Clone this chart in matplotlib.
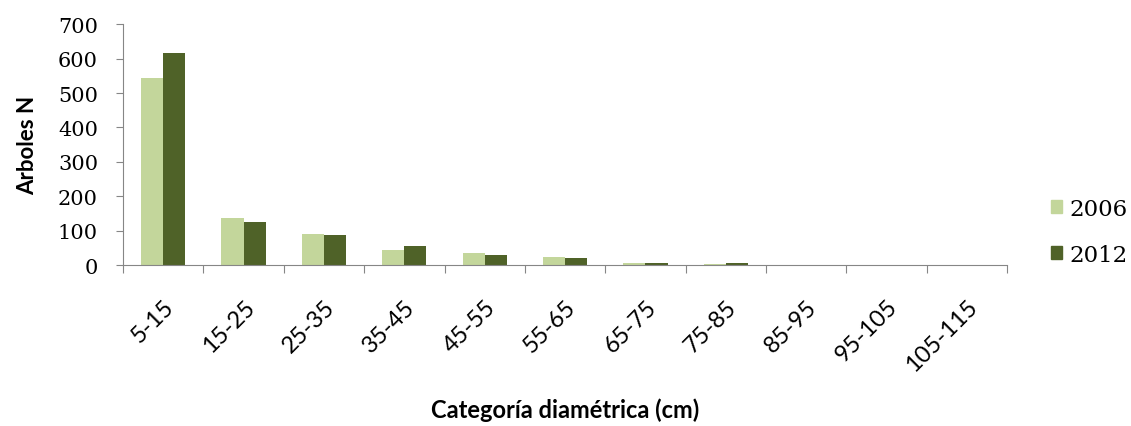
import matplotlib.pyplot as plt
import numpy as np
from matplotlib.patches import Patch

# clases diamétricas y número de árboles por año
categorias = ['5-15', '15-25', '25-35', '35-45', '45-55', '55-65',
              '65-75', '75-85', '85-95', '95-105', '105-115']
arboles_2006 = [543, 137, 90, 45, 35, 22, 5, 2, 0, 0, 0]
arboles_2012 = [617, 124, 87, 55, 30, 20, 7, 5, 0, 0, 0]

color_2006 = '#c3d69b'
color_2012 = '#4f6228'
gris = '#868686'

fig = plt.figure(figsize=(11.31, 4.27), dpi=100)
ax = fig.add_axes([0.1088, 0.377, 0.7816, 0.564])

x = np.arange(len(categorias))
w = 0.275
ax.bar(x - w / 2, arboles_2006, w, color=color_2006, label='2006')
ax.bar(x + w / 2, arboles_2012, w, color=color_2012, label='2012')

ax.set_xlim(-0.5, len(categorias) - 0.5)
ax.set_ylim(0, 700)
ax.set_yticks(range(0, 701, 100))
ax.set_yticklabels([str(v) for v in range(0, 701, 100)],
                   fontsize=15, family='DejaVu Serif')

# marcas entre categorías, etiquetas centradas
ax.set_xticks(np.arange(-0.5, len(categorias)), minor=False)
ax.set_xticklabels([])
ax.set_xticks(x, minor=True)
ax.set_xticklabels(categorias, minor=True, rotation=45, ha='right',
                   rotation_mode='anchor', fontsize=17, family='Lato')
ax.tick_params(axis='x', which='minor', length=0, pad=22)
ax.tick_params(axis='x', which='major', length=6, color=gris, direction='out')
ax.tick_params(axis='y', length=5, color=gris, direction='out', pad=13)

for s in ['top', 'right']:
    ax.spines[s].set_visible(False)
for s in ['left', 'bottom']:
    ax.spines[s].set_color(gris)

ax.set_ylabel('Arboles N', fontsize=16, fontweight='bold', family='Lato', labelpad=14)
fig.text(0.4996, 0.04, 'Categoría diamétrica (cm)', fontsize=17, fontweight='bold',
         family='Lato', ha='center', va='center')

handles = [Patch(color=color_2006, label='2006'), Patch(color=color_2012, label='2012')]
fig.legend(handles=handles, loc='center left', bbox_to_anchor=(0.911, 0.455),
           frameon=False, prop={'family': 'DejaVu Serif', 'size': 16.5},
           handlelength=0.5, handleheight=0.5, handletextpad=0.3, labelspacing=1.05)

fig.savefig('out.png', dpi=100)
